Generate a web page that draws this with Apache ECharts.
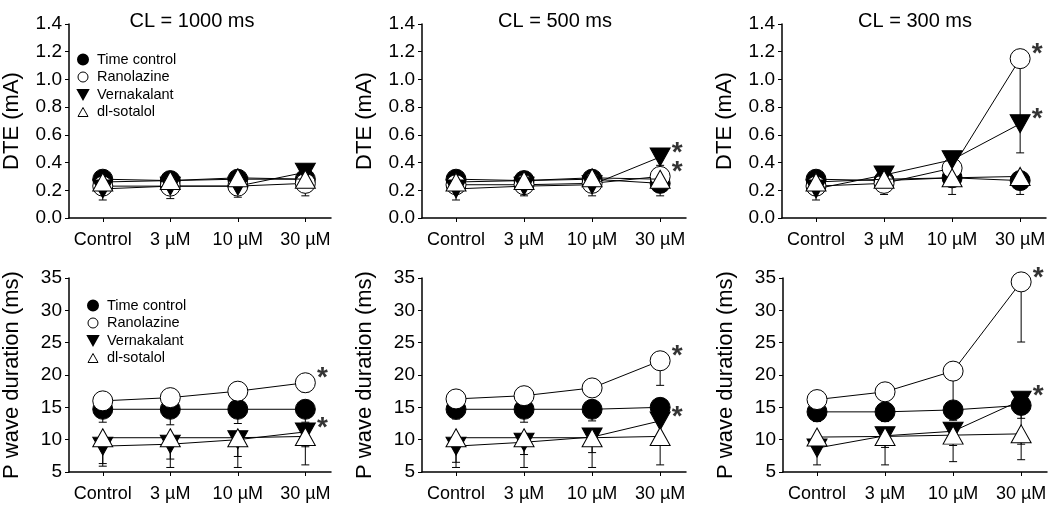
<!DOCTYPE html>
<html>
<head>
<meta charset="utf-8">
<script src="https://cdn.jsdelivr.net/npm/echarts@6/dist/echarts.min.js"></script>
<style>
html, body { margin: 0; padding: 0; background: #fff; }
#chart { width: 1050px; height: 505px; }
</style>
</head>
<body>
<div id="chart"></div>
<script>
const categories = ['Control', '3 µM', '10 µM', '30 µM'];
const seriesNames = ['Time control', 'Ranolazine', 'Vernakalant', 'dl-sotalol'];
const clTitles = ['CL = 1000 ms', 'CL = 500 ms', 'CL = 300 ms'];

// DTE (mA) - rows: time control, ranolazine, vernakalant, dl-sotalol
const dte1000 = [[0.28, 0.27, 0.28, 0.28], [0.23, 0.23, 0.23, 0.25], [0.21, 0.23, 0.23, 0.33], [0.26, 0.27, 0.29, 0.28]];
const dte500 = [[0.28, 0.27, 0.28, 0.25], [0.24, 0.24, 0.25, 0.30], [0.21, 0.23, 0.24, 0.44], [0.26, 0.27, 0.29, 0.28]];
const dte300 = [[0.28, 0.27, 0.29, 0.27], [0.23, 0.25, 0.36, 1.15], [0.21, 0.31, 0.42, 0.68], [0.26, 0.28, 0.29, 0.30]];
// lower error bars (SEM)
const dte1000Err = [[0.02, 0.02, 0.02, 0.02], [0.04, 0.05, 0.05, 0.09], [0.08, 0.09, 0.08, 0.05], [0.03, 0.03, 0.03, 0.03]];
const dte500Err = [[0.02, 0.02, 0.02, 0.09], [0.04, 0.05, 0.06, 0.05], [0.08, 0.07, 0.08, 0.06], [0.03, 0.03, 0.03, 0.03]];
const dte300Err = [[0.03, 0.10, 0.12, 0.10], [0.05, 0.06, 0.08, 0.47], [0.08, 0.05, 0.10, 0.21], [0.03, 0.03, 0.03, 0.03]];

// P wave duration (ms)
const pwd1000 = [[14.7, 14.7, 14.7, 14.7], [16.0, 16.5, 17.5, 18.8], [9.0, 9.3, 10.0, 11.2], [10.3, 10.3, 10.3, 10.5]];
const pwd500 = [[14.7, 14.7, 14.7, 15.0], [16.3, 16.8, 18.0, 22.2], [9.0, 9.6, 10.4, 12.9], [10.3, 10.3, 10.3, 10.5]];
const pwd300 = [[14.3, 14.3, 14.6, 15.3], [16.2, 17.4, 20.6, 34.4], [8.7, 10.6, 11.3, 16.1], [10.4, 10.5, 10.7, 10.9]];
const pwd1000Err = [[2.0, 2.4, 2.2, 2.0], [1.0, 1.0, 1.2, 1.4], [2.7, 3.6, 2.6, 2.3], [4.4, 3.3, 4.6, 4.4]];
const pwd500Err = [[1.5, 2.0, 1.8, 1.5], [1.2, 1.1, 1.3, 3.8], [2.5, 1.9, 2.4, 3.4], [4.6, 4.6, 4.6, 4.4]];
const pwd300Err = [[1.5, 1.5, 1.6, 2.0], [1.2, 1.3, 5.0, 9.3], [2.6, 1.8, 2.2, 6.8], [0.9, 4.4, 4.1, 4.0]];

// series (by index) with a * at 30 µM, per panel
const starred = [[], [1, 2], [1, 2], [1, 2], [1, 2], [1, 2]];

const FONT = 'Liberation Sans, Arial, Helvetica, sans-serif';

const panels = [
    { data: dte1000, err: dte1000Err, left: 67, top: 24, kind: 'dte' },
    { data: dte500, err: dte500Err, left: 422, top: 24, kind: 'dte' },
    { data: dte300, err: dte300Err, left: 782, top: 24, kind: 'dte' },
    { data: pwd1000, err: pwd1000Err, left: 67, top: 278, kind: 'pwd' },
    { data: pwd500, err: pwd500Err, left: 422, top: 278, kind: 'pwd' },
    { data: pwd300, err: pwd300Err, left: 783, top: 278, kind: 'pwd' }
];

const markerStyles = [
    { symbol: 'circle', size: 20, rotate: 0, fill: '#000' },
    { symbol: 'circle', size: 20, rotate: 0, fill: '#fff' },
    { symbol: 'triangle', size: [20, 18], rotate: 180, fill: '#000' },
    { symbol: 'triangle', size: [20, 18], rotate: 0, fill: '#fff' }
];

const grids = [], xAxes = [], yAxes = [], series = [];

panels.forEach((p, i) => {
    const isDte = p.kind === 'dte';
    grids.push({ left: p.left, top: p.top, width: 264, height: 194 });
    xAxes.push({
        type: 'value', gridIndex: i, min: -0.5, max: 3.38,
        axisLine: { onZero: false, lineStyle: { color: '#000', width: 1.5 } },
        axisTick: { customValues: [0, 1, 2, 3], length: 4, lineStyle: { color: '#000' } },
        axisLabel: {
            customValues: [0, 1, 2, 3], formatter: (v) => categories[v],
            color: '#000', fontSize: 18, fontFamily: FONT, margin: 13
        },
        splitLine: { show: false }
    });
    yAxes.push({
        type: 'value', gridIndex: i,
        min: isDte ? 0 : 5, max: isDte ? 1.4 : 35, interval: isDte ? 0.2 : 5,
        name: isDte ? 'DTE (mA)' : 'P wave duration (ms)',
        nameLocation: 'middle', nameGap: 46,
        nameTextStyle: { color: '#000', fontSize: 22, fontFamily: FONT },
        axisLine: { show: true, onZero: false, lineStyle: { color: '#000', width: 1.5 } },
        axisTick: { show: true, length: 4, lineStyle: { color: '#000' } },
        axisLabel: {
            color: '#000', fontSize: 19, fontFamily: FONT, margin: 7,
            formatter: (v) => isDte ? v.toFixed(1) : String(v)
        },
        splitLine: { show: false }
    });

    // error bars, drawn down from the mean
    const errData = [];
    p.data.forEach((row, s) => {
        row.forEach((v, c) => errData.push([c, v, v - p.err[s][c]]));
    });
    series.push({
        type: 'custom', xAxisIndex: i, yAxisIndex: i, z: 1, silent: true,
        data: errData,
        renderItem: (params, api) => {
            const top = api.coord([api.value(0), api.value(1)]);
            const bot = api.coord([api.value(0), api.value(2)]);
            return {
                type: 'group',
                children: [
                    { type: 'line', shape: { x1: top[0], y1: top[1], x2: bot[0], y2: bot[1] }, style: { stroke: '#000', lineWidth: 1 } },
                    { type: 'line', shape: { x1: bot[0] - 4, y1: bot[1], x2: bot[0] + 4, y2: bot[1] }, style: { stroke: '#000', lineWidth: 1 } }
                ]
            };
        }
    });

    p.data.forEach((row, s) => {
        const m = markerStyles[s];
        series.push({
            name: seriesNames[s], type: 'line', xAxisIndex: i, yAxisIndex: i, z: 2 + s,
            data: row.map((v, c) => [c, v]),
            symbol: m.symbol, symbolSize: m.size, symbolRotate: m.rotate, showSymbol: true,
            lineStyle: { color: '#000', width: 1 },
            itemStyle: { color: m.fill, borderColor: '#000', borderWidth: 1 },
            emphasis: { disabled: true },
            animation: false
        });
    });

    if (starred[i].length) {
        series.push({
            type: 'scatter', xAxisIndex: i, yAxisIndex: i, z: 10, symbolSize: 1,
            itemStyle: { color: 'rgba(0,0,0,0)' },
            data: starred[i].map((s) => [3, p.data[s][3]]),
            label: {
                show: true, formatter: '*', position: 'inside', offset: [17, -4],
                color: '#000', fontSize: 28, fontWeight: 'bold', fontFamily: FONT
            }
        });
    }
});

const legendData = [
    { name: 'Time control', icon: 'circle', itemStyle: { color: '#000', borderColor: '#000' } },
    { name: 'Ranolazine', icon: 'circle', itemStyle: { color: '#fff', borderColor: '#000', borderWidth: 1 } },
    { name: 'Vernakalant', icon: 'path://M0,0 L10,0 L5,9 Z', itemStyle: { color: '#000', borderColor: '#000' } },
    { name: 'dl-sotalol', icon: 'path://M5,0 L10,9 L0,9 Z', itemStyle: { color: '#fff', borderColor: '#000', borderWidth: 1 } }
];
const legendBase = {
    orient: 'vertical', data: legendData, itemWidth: 10, itemHeight: 10, itemGap: 2.5,
    selectedMode: false,
    textStyle: { color: '#000', fontSize: 14.5, fontFamily: FONT, padding: [0, 0, 0, 4] }
};

const chart = echarts.init(document.getElementById('chart'));
chart.setOption({
    animation: false,
    title: clTitles.map((t, i) => ({
        text: t, left: [187, 550, 910][i], top: 6, textAlign: 'center',
        textStyle: { color: '#000', fontSize: 20, fontWeight: 'normal', fontFamily: FONT }
    })),
    legend: [
        Object.assign({ left: 72, top: 47 }, legendBase),
        Object.assign({ left: 82, top: 293 }, legendBase)
    ],
    grid: grids,
    xAxis: xAxes,
    yAxis: yAxes,
    series: series
});
</script>
</body>
</html>
